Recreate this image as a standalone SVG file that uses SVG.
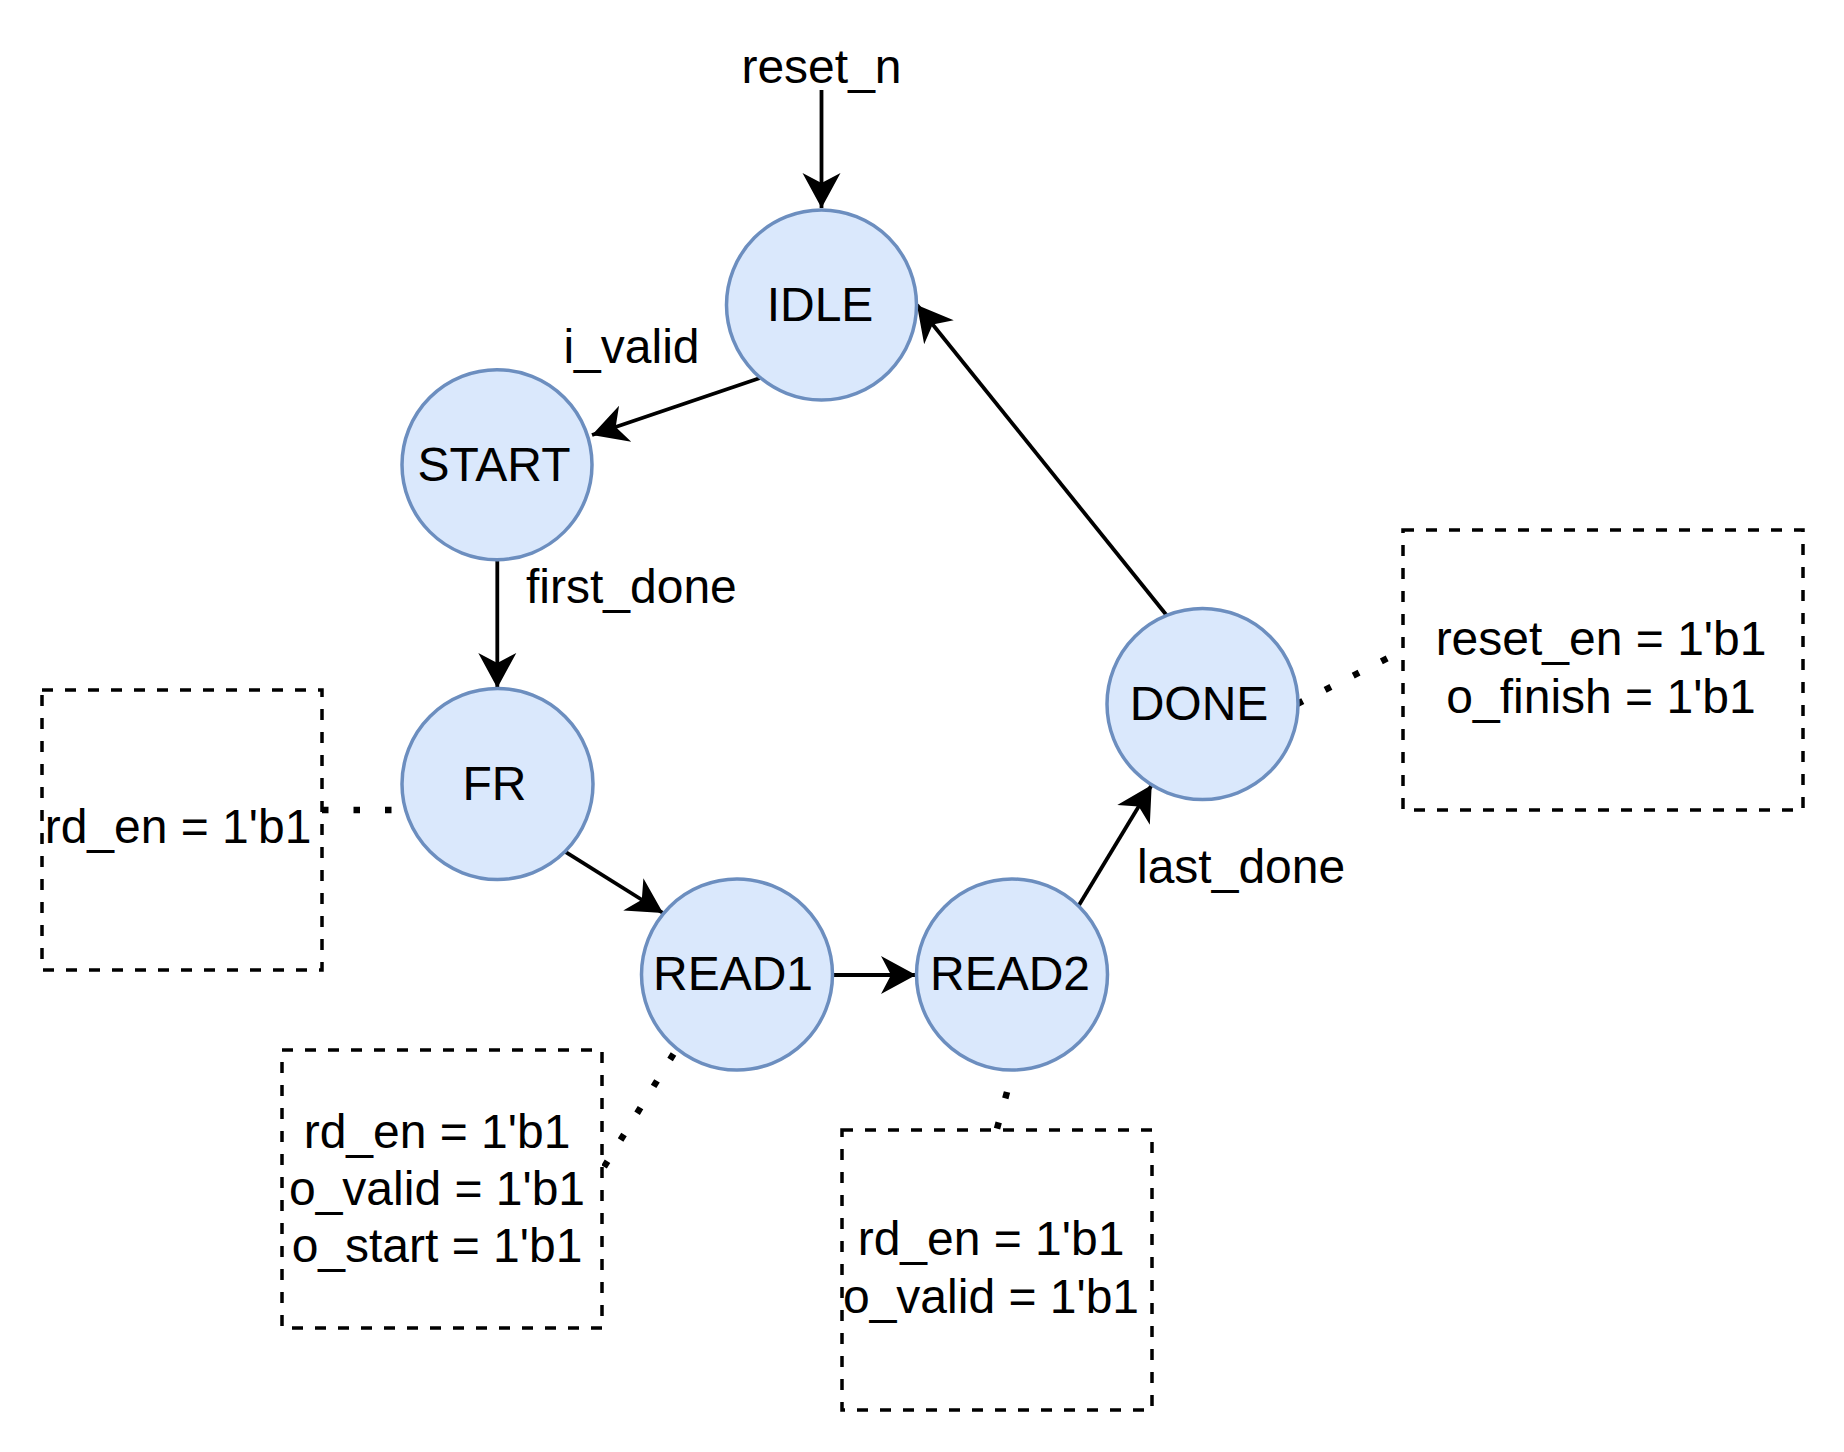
<svg xmlns="http://www.w3.org/2000/svg" width="1844" height="1452" viewBox="0 0 1844 1452">
<style>
  .state { fill: #dae8fc; stroke: #6c8ebf; stroke-width: 3.5; }
  .lbl { font-family: "Liberation Sans", Arial, sans-serif; font-size: 48px; fill: #000; }
  .mid { text-anchor: middle; }
  .edge { stroke: #000; stroke-width: 3.8; fill: none; }
  .dot { stroke: #000; stroke-width: 6.5; fill: none; stroke-dasharray: 6.5 25; }
  .note { fill: #fff; stroke: #000; stroke-width: 3.5; stroke-dasharray: 11 12; }
</style>
<defs>
  <marker id="arr" markerUnits="userSpaceOnUse" markerWidth="42" markerHeight="42" viewBox="-2 -21 42 42" refX="35" refY="0" orient="auto" overflow="visible">
    <path d="M35,0 L0,-19 L10,0 L0,19 Z" fill="#000"/>
  </marker>
</defs>
<rect width="1844" height="1452" fill="#fff"/>

<g id="connectors">
  <line class="edge" x1="821.5" y1="90" x2="821.5" y2="208" marker-end="url(#arr)"/>
  <line class="edge" x1="760" y1="378" x2="592" y2="435" marker-end="url(#arr)"/>
  <line class="edge" x1="497.3" y1="560" x2="497.3" y2="688" marker-end="url(#arr)"/>
  <line class="edge" x1="565" y1="851.7" x2="663" y2="913" marker-end="url(#arr)"/>
  <line class="edge" x1="833" y1="975" x2="916" y2="975" marker-end="url(#arr)"/>
  <line class="edge" x1="1078" y1="906.7" x2="1151.7" y2="785" marker-end="url(#arr)"/>
  <line class="edge" x1="1167.8" y1="616.7" x2="917" y2="305" marker-end="url(#arr)"/>
  <line class="dot" x1="322" y1="810" x2="400" y2="810"/>
  <line class="dot" x1="673.5" y1="1054" x2="604" y2="1167"/>
  <line class="dot" x1="1007" y1="1092" x2="995" y2="1136"/>
  <line class="dot" x1="1297" y1="704" x2="1392" y2="656"/>
  <text class="lbl mid" x="821.5" y="83">reset_n</text>
  <text class="lbl mid" x="631.5" y="363">i_valid</text>
  <text class="lbl" x="526" y="603">first_done</text>
  <text class="lbl" x="1137" y="883">last_done</text>
</g>

<g id="idle"><circle class="state" cx="821.5" cy="305" r="95"/><text class="lbl mid" x="820" y="321">IDLE</text></g>
<g id="start"><circle class="state" cx="497" cy="464.7" r="95"/><text class="lbl mid" x="494" y="481">START</text></g>
<g id="fr"><circle class="state" cx="497.5" cy="784" r="95.5"/><text class="lbl mid" x="494.5" y="800">FR</text></g>
<g id="read1"><circle class="state" cx="737" cy="974.5" r="95.5"/><text class="lbl mid" x="733" y="990">READ1</text></g>
<g id="read2"><circle class="state" cx="1012" cy="974.5" r="95.5"/><text class="lbl mid" x="1010" y="990">READ2</text></g>
<g id="done"><circle class="state" cx="1202.5" cy="704" r="95.5"/><text class="lbl mid" x="1199" y="720">DONE</text></g>

<g id="note-fr"><rect class="note" x="42" y="690" width="280" height="280"/><text class="lbl mid" x="178" y="843">rd_en = 1'b1</text></g>
<g id="note-read1"><rect class="note" x="282" y="1050" width="320" height="278"/>
  <text class="lbl mid" x="437" y="1148">rd_en = 1'b1</text>
  <text class="lbl mid" x="437" y="1205">o_valid = 1'b1</text>
  <text class="lbl mid" x="437" y="1262">o_start = 1'b1</text></g>
<g id="note-read2"><rect class="note" x="842" y="1130" width="310" height="280"/>
  <text class="lbl mid" x="991" y="1255">rd_en = 1'b1</text>
  <text class="lbl mid" x="991" y="1313">o_valid = 1'b1</text></g>
<g id="note-done"><rect class="note" x="1403" y="530" width="400" height="280"/>
  <text class="lbl mid" x="1601" y="655">reset_en = 1'b1</text>
  <text class="lbl mid" x="1601" y="713">o_finish = 1'b1</text></g>
</svg>
